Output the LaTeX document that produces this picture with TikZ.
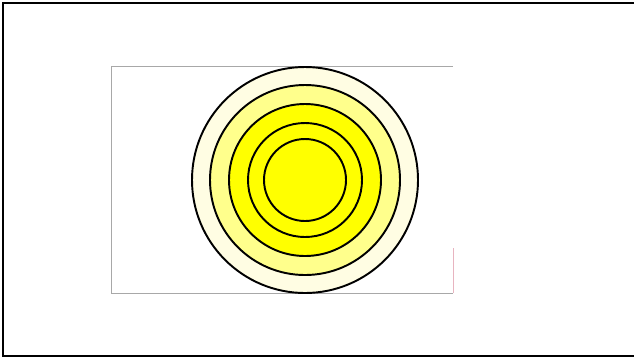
\documentclass[tikz,border=0pt]{standalone}
\usepackage{tikz}
\usetikzlibrary{calc}
\definecolor{paleyellow}{HTML}{FFFDE3}
\definecolor{lightyellow}{HTML}{FFFF8C}
\definecolor{fullyellow}{HTML}{FFFF00}
\definecolor{framegray}{HTML}{A8A8A8}
\definecolor{framepink}{HTML}{E8B4C0}
\tikzset{
  ring/.style={draw=black, line width=1.1pt},
  outerframe/.style={draw=black, line width=1.3pt},
  innerframe/.style={draw=framegray, line width=0.5pt}
}
\begin{document}
\begin{tikzpicture}[x=0.02cm, y=0.02cm]
            \useasboundingbox (0,0) rectangle (634,360);
            % Define points
            \coordinate (O) at (305, 180);
            \coordinate (TL) at (111, 294);
            \coordinate (TR) at (453, 294);
            \coordinate (BL) at (111, 67);
            \coordinate (BR) at (453, 67);
            \coordinate (R) at (453, 112);
            % Outer frame
            \draw[outerframe] (634, 357) -- (3, 357) -- (3, 4) -- (634, 4);
            % Inner frame
            \draw[innerframe] (TR) -- (TL) -- (BL) -- (BR);
            \draw[draw=framepink, line width=0.5pt] (BR) -- (R);
            % Rings
            \filldraw[ring, fill=paleyellow] (O) circle (113);
            \filldraw[ring, fill=lightyellow] (O) circle (95);
            \filldraw[ring, fill=fullyellow] (O) circle (76);
            \filldraw[ring, fill=fullyellow] (O) circle (57);
            \filldraw[ring, fill=fullyellow] (O) circle (41);
          \end{tikzpicture}
\end{document}
